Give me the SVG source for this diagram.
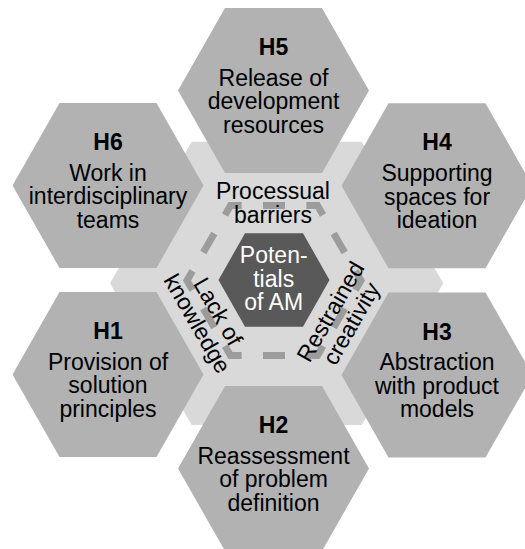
<svg xmlns="http://www.w3.org/2000/svg" width="525" height="549" viewBox="0 0 525 549">
  <defs>
    <style>
      .hex { fill: #b2b2b2; }
      .t { font-family: "Liberation Sans", Arial, sans-serif; font-size: 23px; text-anchor: middle; fill: #000; }
      .b { font-weight: bold; }
      .w { fill: #fff; }
    </style>
    <!-- flat-top hexagon used by the six outer fields -->
    <polygon id="outer-hex" points="-95.5,0 -48.5,-82.5 48.5,-82.5 95.5,0 48.5,82.5 -48.5,82.5"/>
  </defs>

  <rect width="525" height="549" fill="#fff"/>

  <!-- light background hexagon behind the ring -->
  <polygon id="backdrop" points="110,283.3 191.7,141.7 361.7,141.7 443.3,283.3 361.7,425 191.7,425" fill="#d9d9d9"/>

  <!-- outer fields -->
  <g id="H5" transform="translate(273.5,90.5)">
    <use href="#outer-hex" class="hex"/>
    <text class="t b" y="-35.5">H5</text>
    <text class="t" y="-4.7">Release of</text>
    <text class="t" y="18.8">development</text>
    <text class="t" y="42.3">resources</text>
  </g>
  <g id="H4" transform="translate(437,185.8)">
    <use href="#outer-hex" class="hex"/>
    <text class="t b" y="-35.5">H4</text>
    <text class="t" y="-4.7">Supporting</text>
    <text class="t" y="18.8">spaces for</text>
    <text class="t" y="42.3">ideation</text>
  </g>
  <g id="H3" transform="translate(437,375)">
    <use href="#outer-hex" class="hex"/>
    <text class="t b" y="-35.5">H3</text>
    <text class="t" y="-4.7">Abstraction</text>
    <text class="t" y="18.8">with product</text>
    <text class="t" y="42.3">models</text>
  </g>
  <g id="H2" transform="translate(273.5,468.5)">
    <use href="#outer-hex" class="hex"/>
    <text class="t b" y="-35.5">H2</text>
    <text class="t" y="-4.7">Reassessment</text>
    <text class="t" y="18.8">of problem</text>
    <text class="t" y="42.3">definition</text>
  </g>
  <g id="H1" transform="translate(108,374.5)">
    <use href="#outer-hex" class="hex"/>
    <text class="t b" y="-35.5">H1</text>
    <text class="t" y="-4.7">Provision of</text>
    <text class="t" y="18.8">solution</text>
    <text class="t" y="42.3">principles</text>
  </g>
  <g id="H6" transform="translate(108,185.5)">
    <use href="#outer-hex" class="hex"/>
    <text class="t b" y="-35.5">H6</text>
    <text class="t" y="-4.7">Work in</text>
    <text class="t" y="18.8">interdisciplinary</text>
    <text class="t" y="42.3">teams</text>
  </g>

  <!-- dashed barrier ring, dashes centred on corners and edge midpoints -->
  <g id="ring">
    <path d="M187,280.5 L230.5,205.5 L317.5,205.5 L361,280.5 L317.5,355.5 L230.5,355.5 Z"
          fill="none" stroke="#9c9c9c" stroke-width="7" stroke-dasharray="22 21.4" stroke-dashoffset="11"/>
  </g>

  <!-- barrier labels -->
  <g id="barrier-processual">
    <text class="t" x="273" y="199.2">Processual</text>
    <text class="t" x="273" y="223">barriers</text>
  </g>
  <g id="barrier-knowledge" transform="translate(207.8,317.5) rotate(60)">
    <text class="t" y="-4">Lack of</text>
    <text class="t" y="20">knowledge</text>
  </g>
  <g id="barrier-creativity" transform="translate(340.8,317.5) rotate(-60)">
    <text class="t" y="-4">Restrained</text>
    <text class="t" y="20">creativity</text>
  </g>

  <!-- core -->
  <g id="core">
    <polygon points="218.5,280 245,233.3 303,233.3 329.5,280 303,326.7 245,326.7" fill="#595959"/>
    <text class="t w" x="273.7" y="262.7">Poten-</text>
    <text class="t w" x="273.7" y="286.5">tials</text>
    <text class="t w" x="273.7" y="310.2">of AM</text>
  </g>
</svg>
